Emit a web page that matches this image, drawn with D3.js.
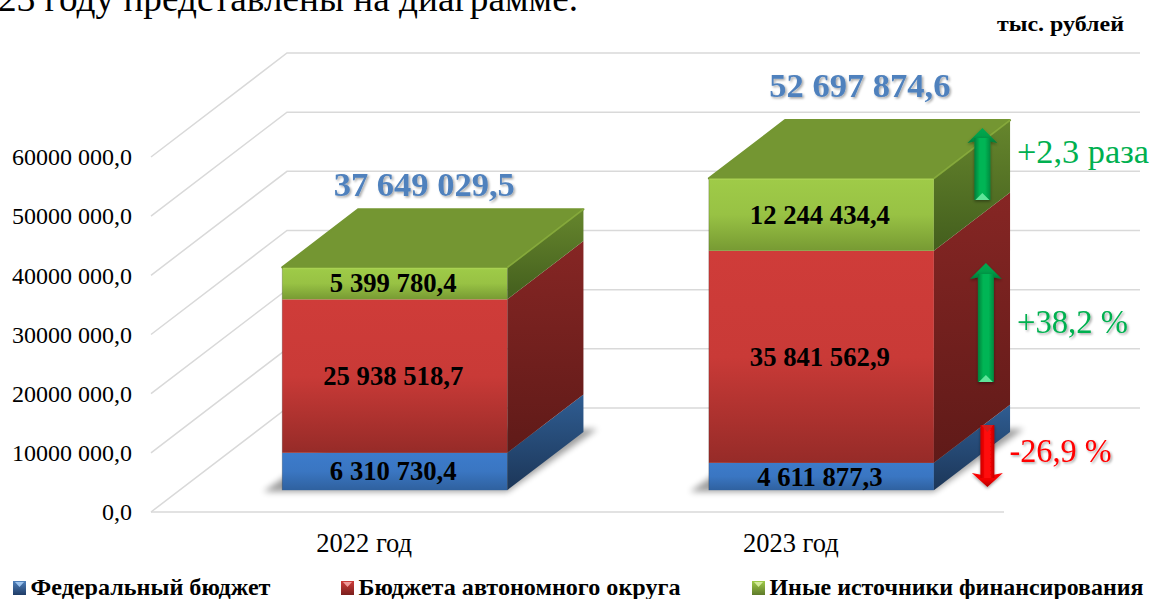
<!DOCTYPE html>
<html>
<head>
<meta charset="utf-8">
<script src="https://cdnjs.cloudflare.com/ajax/libs/d3/7.8.5/d3.min.js"></script>
<style>
  html, body { margin: 0; padding: 0; background: #fff; overflow: hidden; }
  svg { display: block; }
  text { font-family: "Liberation Serif", serif; }
</style>
</head>
<body>
<svg id="chart" width="1152" height="599"></svg>
<script>
const years = ['2022 год', '2023 год'];
const seriesNames = ['Федеральный бюджет', 'Бюджета автономного округа', 'Иные источники финансирования'];
const federal = [6310730.4, 4611877.3];
const okrug = [25938518.7, 35841562.9];
const other = [5399780.4, 12244434.4];
const yTicks = [0, 10000000, 20000000, 30000000, 40000000, 50000000, 60000000];
const changes = ['-26,9 %', '+38,2 %', '+2,3 раза'];

const svg = d3.select('#chart');
const defs = svg.append('defs');

function vGrad(id, stops) {
    const g = defs.append('linearGradient').attr('id', id)
        .attr('x1', 0).attr('y1', 0).attr('x2', 0).attr('y2', 1);
    stops.forEach((c, i) => g.append('stop').attr('offset', i / (stops.length - 1)).attr('stop-color', c));
}
function hGrad(id, stops) {
    const g = defs.append('linearGradient').attr('id', id)
        .attr('x1', 0).attr('y1', 0).attr('x2', 1).attr('y2', 0);
    stops.forEach((c, i) => g.append('stop').attr('offset', i / (stops.length - 1)).attr('stop-color', c));
}
vGrad('front0', ['#3c7bcb', '#3a76c2', '#2f619f']);
vGrad('front1', ['#cf3c39', '#c93a37', '#962b28']);
vGrad('front2', ['#9fcb48', '#98c244', '#779a33']);
vGrad('side0', ['#2f5d92', '#1c3658']);
vGrad('side1', ['#862624', '#5f1a18']);
vGrad('side2', ['#66862d', '#435e1d']);
hGrad('arrowGreen', ['#007f3a', '#00b554', '#00b554', '#008a40']);
hGrad('arrowRed', ['#c80000', '#ff0808', '#ff0808', '#c00000']);
vGrad('headGreen', ['#00a850', '#00a04a', '#007a38']);
vGrad('headRed', ['#ff0808', '#ee0000', '#b00000']);

const blur = defs.append('filter').attr('id', 'soft')
    .attr('x', '-20%').attr('y', '-20%').attr('width', '140%').attr('height', '140%');
blur.append('feGaussianBlur').attr('stdDeviation', 3);
const shadow = defs.append('filter').attr('id', 'textShadow')
    .attr('x', '-10%').attr('y', '-20%').attr('width', '120%').attr('height', '150%');
shadow.append('feDropShadow').attr('dx', 1.5).attr('dy', 1.5).attr('stdDeviation', 1.2)
    .attr('flood-color', '#000').attr('flood-opacity', 0.35);
const arrowShadow = defs.append('filter').attr('id', 'arrowShadow')
    .attr('x', '-40%').attr('y', '-10%').attr('width', '180%').attr('height', '125%');
arrowShadow.append('feDropShadow').attr('dx', 0).attr('dy', 1.5).attr('stdDeviation', 1.5)
    .attr('flood-color', '#000').attr('flood-opacity', 0.4);

// front plane of the 3d box and how far the back wall is pushed
const plot = { left: 151, right: 1004, bottom: 512, top: 157 };
const wall = { dx: 136, dy: -104 };
const barNear = 0.21, barFar = 0.77;

const x = d3.scaleBand().domain(years).range([plot.left + 2, plot.right + 2])
    .paddingInner(0.4725).paddingOuter(0.236);
const y = d3.scaleLinear().domain([0, 60000000]).range([plot.bottom, plot.top]);

// value position with depth z (0 front, 1 back wall)
const px = (xv, z) => xv + wall.dx * z;
const py = (v, z) => y(v) + wall.dy * z;

const rows = years.map((year, i) => ({ year, s0: federal[i], s1: okrug[i], s2: other[i] }));
const stacked = d3.stack().keys(['s0', 's1', 's2'])(rows);

const ruFormat = d3.formatLocale({ decimal: ',', thousands: ' ', grouping: [3], currency: ['', ''] }).format(',.1f');

function placeText(text, tx, ty, size, opts) {
    opts = opts || {};
    return svg.append('text')
        .attr('x', tx).attr('y', ty)
        .attr('text-anchor', opts.anchor || 'middle')
        .attr('font-size', size)
        .attr('font-weight', opts.bold ? 'bold' : 'normal')
        .attr('fill', opts.fill || '#000')
        .attr('filter', opts.shadow ? 'url(#textShadow)' : null)
        .attr('textLength', opts.len || null)
        .attr('lengthAdjust', opts.len ? 'spacingAndGlyphs' : null)
        .text(text);
}

// grid: left wall lines + back wall lines
const grid = svg.append('g').attr('fill', 'none').attr('stroke', '#d9d9d9').attr('stroke-width', 1.5);
grid.selectAll('polyline').data(yTicks).enter().append('polyline')
    .attr('points', d => [[plot.left, y(d)], [px(plot.left, 1), py(d, 1)], [px(plot.right, 1), py(d, 1)]].join(' '));
grid.append('line').attr('x1', plot.left).attr('x2', plot.right).attr('y1', y(0)).attr('y2', y(0));

// axes, only the labels are visible
const yAxis = d3.axisLeft(y).tickValues(yTicks).tickSize(0).tickPadding(0)
    .tickFormat(d => d === 0 ? '0,0' : (d / 1000) + ' 000,0');
const yG = svg.append('g').attr('transform', `translate(${plot.left - 19},0)`).call(yAxis);
yG.select('.domain').remove();
yG.selectAll('text').attr('font-size', 24).attr('font-family', '"Liberation Serif", serif').attr('fill', '#000')
    .attr('x', 0).attr('dy', '0.32em');

const xAxis = d3.axisBottom(x).tickSize(0).tickPadding(0);
const xG = svg.append('g').attr('transform', `translate(-2,${plot.bottom + 21})`).call(xAxis);
xG.select('.domain').remove();
xG.selectAll('.tick text').attr('font-size', 26.5).attr('font-family', '"Liberation Serif", serif').attr('fill', '#000')
    .attr('y', 0).attr('dy', '0.71em');

// floor shadows
svg.append('g').selectAll('polygon').data(years).enter().append('polygon')
    .attr('filter', 'url(#soft)').attr('fill', '#000').attr('opacity', 0.38)
    .attr('points', d => {
        const l = px(x(d), barNear), r = l + x.bandwidth();
        const yb = py(0, barNear) + 1.5, yt = py(0, barFar) - 3;
        const dx = px(0, barFar) - px(0, barNear);
        return [[l - 19, yb], [r, yb], [r + dx + 14, yt], [l - 19 + dx + 14, yt]].join(' ');
    });

// the boxes, bottom segment first
const bars = svg.append('g');
stacked.forEach((layer, si) => {
    layer.forEach((seg, i) => {
        const year = years[i];
        const l = px(x(year), barNear), r = l + x.bandwidth();
        const ddx = px(0, barFar) - px(0, barNear);
        const y0 = py(seg[0], barNear), y1 = py(seg[1], barNear);
        const ddy = py(0, barFar) - py(0, barNear);
        bars.append('rect').attr('x', l).attr('y', y1).attr('width', r - l).attr('height', y0 - y1)
            .attr('fill', `url(#front${si})`);
        bars.append('polygon')
            .attr('points', [[r, y0], [r + ddx, y0 + ddy], [r + ddx, y1 + ddy], [r, y1]].join(' '))
            .attr('fill', `url(#side${si})`);
        if (si === 2) {
            bars.append('polygon')
                .attr('points', [[l, y1], [r, y1], [r + ddx, y1 + ddy], [l + ddx, y1 + ddy]].join(' '))
                .attr('fill', '#749632').attr('stroke', '#749632').attr('stroke-width', 2).attr('stroke-linejoin', 'round');
            bars.append('line').attr('x1', l).attr('x2', r).attr('y1', y1 + 1).attr('y2', y1 + 1)
                .attr('stroke', '#a9d152').attr('stroke-width', 1.5);
            bars.append('line').attr('x1', r).attr('y1', y1).attr('x2', r + ddx).attr('y2', y1 + ddy)
                .attr('stroke', '#86a93c').attr('stroke-width', 1.5);
        }
        placeText(ruFormat(seg[1] - seg[0]), (l + r) / 2 - 1.5, (y0 + y1) / 2 + 9, 26.7, { bold: true });
    });
});
bars.append('g').selectAll('line').data(years).enter().append('line')
    .attr('x1', d => px(x(d), barNear)).attr('x2', d => px(x(d), barNear))
    .attr('y1', (d, i) => py(federal[i] + okrug[i] + other[i], barNear)).attr('y2', py(0, barNear))
    .attr('stroke', '#000').attr('stroke-opacity', 0.2);

// totals above the boxes, second one sits a bit higher and further right in the original
const totalShift = [[29.5, -13], [38.5, -23.5]];
years.forEach((year, i) => {
    const total = federal[i] + okrug[i] + other[i];
    const cx = px(x(year), barNear) + x.bandwidth() / 2 + totalShift[i][0];
    placeText(ruFormat(total), cx, py(total, barFar) + totalShift[i][1], 34.5, { bold: true, fill: '#4f81bd', shadow: true });
});

// change arrows on the 2023 box
function arrow(cx, yStart, yTip, shaftW, headW, headL, shaftFill, headFill, light) {
    const dir = yTip < yStart ? 1 : -1;
    const base = yTip + dir * headL;
    const joint = base - dir * 5; // shaft runs up into the notch of the head
    const g = svg.append('g').attr('filter', 'url(#arrowShadow)');
    g.append('path')
        .attr('d', d3.line()([[cx - headW, base], [cx, yTip], [cx + headW, base], [cx, base - dir * 3]]) + 'Z')
        .attr('fill', headFill);
    g.append('rect').attr('x', cx - shaftW).attr('width', shaftW * 2)
        .attr('y', Math.min(yStart, joint)).attr('height', Math.abs(yStart - joint))
        .attr('fill', shaftFill);
    g.append('path')
        .attr('d', d3.line()([[cx - shaftW + 1, yStart], [cx, yStart + (dir > 0 ? -7 : 7)], [cx + shaftW - 1, yStart]]) + 'Z')
        .attr('fill', light);
}
const bar2Right = px(x(years[1]), barNear) + x.bandwidth();
arrow(bar2Right + 48.5, 200, 128, 8, 15, 15, 'url(#arrowGreen)', 'url(#headGreen)', '#5fe59a');
arrow(bar2Right + 52, 382, 263, 8, 16, 16, 'url(#arrowGreen)', 'url(#headGreen)', '#5fe59a');
arrow(bar2Right + 53.5, 425, 487, 7, 15.5, 14, 'url(#arrowRed)', 'url(#headRed)', '#d61c1c');

placeText(changes[2], 1017, 163, 34, { anchor: 'start', fill: '#00b050', len: 132 });
placeText(changes[1], 1017, 333, 34, { anchor: 'start', fill: '#00b050', shadow: true, len: 111 });
placeText(changes[0], 1009.5, 462, 34, { anchor: 'start', fill: '#ff0000', shadow: true, len: 102 });

// leftover of the report text and the unit
placeText('23 году представлены на диаграмме.', -2, 11, 37, { anchor: 'start', len: 580 });
placeText('тыс. рублей', 997, 31, 21, { anchor: 'start', bold: true, len: 127 });

// legend
const legendX = [13, 341, 752];
const legendLen = [240, 322, 374];
const legendFill = [['#4f81bd', '#1f3c66', '#9cc3ee'], ['#cf3c39', '#7a1f1d', '#f09a98'], ['#9fcb48', '#5e7a2a', '#d3ea9b']];
const legend = svg.append('g');
seriesNames.forEach((name, i) => {
    const gid = 'legend' + i;
    vGrad(gid, legendFill[i].slice(0, 2));
    const lg = legend.append('g').attr('transform', `translate(${legendX[i]},581)`);
    lg.append('rect').attr('width', 13).attr('height', 14).attr('fill', `url(#${gid})`);
    lg.append('path').attr('d', 'M2,1H11L6.5,6Z').attr('fill', legendFill[i][2]);
    legend.append('text').attr('x', legendX[i] + 17.5).attr('y', 594.5).attr('font-size', 23)
        .attr('font-weight', 'bold').attr('textLength', legendLen[i]).attr('lengthAdjust', 'spacingAndGlyphs')
        .text(name);
});
</script>
</body>
</html>
